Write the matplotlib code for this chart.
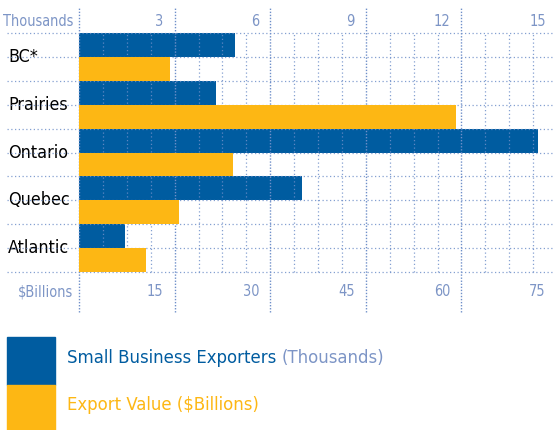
import numpy as np
import matplotlib

matplotlib.use("Agg")

import matplotlib.pyplot as plt
from matplotlib import font_manager
from matplotlib.patches import Rectangle

# data
regioes = ["BC*", "Prairies", "Ontario", "Quebec", "Atlantic"]
exportadores = [4.9, 4.3, 14.4, 7.0, 1.45]      # thousands
valor_export = [14.3, 59.1, 24.1, 15.7, 10.5]   # $ billions
ticks_mil = [3, 6, 9, 12, 15]
ticks_bi = [15, 30, 45, 60, 75]

AZUL = "#005ca0"
AMARELO = "#fdb714"
GRADE = "#6f8fc9"
TXT_EIXO = "#7d95c6"

# condensed font if there is one
nomes = {f.name for f in font_manager.fontManager.ttflist}
if "Liberation Sans Narrow" in nomes:
    FONTE = dict(family=["Liberation Sans Narrow", "DejaVu Sans"])
else:
    FONTE = dict(family=["DejaVu Sans"], stretch="condensed")

W, H = 555, 430
fig = plt.figure(figsize=(W / 100, H / 100), dpi=100)
renderer = fig.canvas.get_renderer()


def tamanho_para(texto, largura_px, **kw):
    """font size (pt) that gives the text the wanted width in pixels"""
    t = fig.text(0, 0, texto, fontsize=10, **FONTE, **kw)
    w = t.get_window_extent(renderer).width
    t.remove()
    return 10 * largura_px / w


# the original face is narrower than ours: let the texts run a bit wider
FS_EIXO = tamanho_para("Thousands", 71)
FS_CAT = tamanho_para("Prairies", 60)
FS_LEG = tamanho_para("Small Business Exporters (Thousands)", 318)

# plot area in pixels: x 79..557, y 33..272
x0, x1, y0, y1 = 79, 557, 33, 272
ax = fig.add_axes([x0 / W, 1 - y1 / H, (x1 - x0) / W, (y1 - y0) / H])
ax2 = ax.twiny()

pos = np.arange(len(regioes))
ax.barh(pos + 0.25, exportadores, height=0.5, color=AZUL, zorder=1)
ax2.barh(pos + 0.75, valor_export, height=0.5, color=AMARELO, zorder=1)

for a, lim in ((ax, 15), (ax2, 75)):
    a.set_xlim(0, lim)
    a.set_ylim(len(regioes), 0)
    a.set_xticks([])
    a.set_yticks([])
    for s in a.spines.values():
        s.set_visible(False)

# grid (over the bars)
ly = dict(color=GRADE, lw=0.9, ls=(0, (1, 2)), alpha=0.85, zorder=5, clip_on=False)
for yv in np.arange(0, len(regioes) + 0.01, 0.5):
    ax.axhline(yv, xmin=-(x0 - 7) / (x1 - x0), xmax=1.0, **ly)
for xv in np.arange(0.75, 15, 0.75):
    if abs(xv / 3 - round(xv / 3)) > 1e-6:
        ax.axvline(xv, ymin=0, ymax=1, **ly)
ext_top = 1 + (y0 - 8) / (y1 - y0)
ext_bot = -(312 - y1) / (y1 - y0)
for xv in [0] + ticks_mil:
    ax.axvline(xv, ymin=ext_bot, ymax=ext_top, color=GRADE, lw=1.0,
               ls=(0, (1, 1.2)), zorder=5, clip_on=False)

# tick labels
ax.annotate("Thousands", xy=(0, 1), xycoords=("data", "axes fraction"),
            xytext=(-4, 3), textcoords="offset points", ha="right", va="bottom",
            color=TXT_EIXO, fontsize=FS_EIXO, **FONTE)
for t in ticks_mil:
    ax.annotate(str(t), xy=(t, 1), xycoords=("data", "axes fraction"),
                xytext=(-8, 3), textcoords="offset points", ha="right", va="bottom",
                color=TXT_EIXO, fontsize=FS_EIXO, **FONTE)
ax2.annotate("$Billions", xy=(0, 0), xycoords=("data", "axes fraction"),
             xytext=(-4, -9), textcoords="offset points", ha="right", va="top",
             color=TXT_EIXO, fontsize=FS_EIXO, **FONTE)
for t in ticks_bi:
    ax2.annotate(str(t), xy=(t, 0), xycoords=("data", "axes fraction"),
                 xytext=(-8, -9), textcoords="offset points", ha="right", va="top",
                 color=TXT_EIXO, fontsize=FS_EIXO, **FONTE)

# category labels
for i, r in enumerate(regioes):
    ax.annotate(r, xy=(0, i + 0.5), xycoords=("figure pixels", "data"),
                xytext=(8, 0), textcoords="offset pixels", ha="left", va="center",
                color="black", fontsize=FS_CAT, **FONTE)

# legend
fig.patches.append(Rectangle((7 / W, 1 - 385 / H), 48 / W, 48 / H,
                             transform=fig.transFigure, color=AZUL))
fig.patches.append(Rectangle((7 / W, 0), 48 / W, 45 / H,
                             transform=fig.transFigure, color=AMARELO))
t1 = fig.text(67 / W, 1 - 358 / H, "Small Business Exporters ", color=AZUL,
              fontsize=FS_LEG, va="center", ha="left", **FONTE)
bb = t1.get_window_extent(renderer)
fig.text(bb.x1 / W, 1 - 358 / H, "(Thousands)", color=TXT_EIXO,
         fontsize=FS_LEG, va="center", ha="left", **FONTE)
fig.text(67 / W, 1 - 405 / H, "Export Value ($Billions)", color=AMARELO,
         fontsize=FS_LEG, va="center", ha="left", **FONTE)

fig.savefig("out.png", dpi=100)
